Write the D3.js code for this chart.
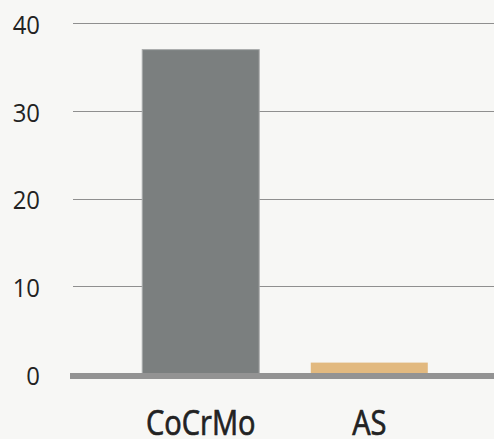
<!DOCTYPE html>
<html><head><meta charset="utf-8">
<script src="https://cdn.jsdelivr.net/npm/d3@7"></script>
<style>
html,body{margin:0;padding:0;background:#f7f7f5;}
svg{display:block;}
</style></head>
<body>
<script>
const categories = ["CoCrMo", "AS"];
const values = [37, 1.3];
const colors = ["#7b7f7f", "#e2b97f"];
const yTicks = [0, 10, 20, 30, 40];

const W = 494, H = 439;
const svg = d3.select("body").append("svg").attr("width", W).attr("height", H);
svg.append("rect").attr("width", W).attr("height", H).attr("fill", "#f7f7f5");

const x = d3.scaleBand().domain(categories).range([70, 500]).paddingInner(0.3).paddingOuter(0.4255);
const y = d3.scaleLinear().domain([0, 40]).range([374, 23.3]);

// gridlines
svg.append("g").selectAll("line").data(yTicks.filter(d => d > 0)).join("line")
  .attr("x1", 73).attr("x2", W)
  .attr("y1", d => Math.round(y(d)) + 0.5).attr("y2", d => Math.round(y(d)) + 0.5)
  .attr("stroke", "#8f8f8f").attr("stroke-width", 1);

// y labels
svg.append("g").selectAll("text").data(yTicks).join("text")
  .attr("transform", d => `translate(40,${y(d)}) scale(0.92,1)`)
  .attr("dy", "0.41em")
  .attr("text-anchor", "end")
  .attr("font-family", "Open Sans")
  .attr("font-size", 26)
  .attr("fill", "#222")
  .text(d => d);

// bars
svg.append("g").selectAll("rect").data(categories).join("rect")
  .attr("x", d => x(d) + 0.5)
  .attr("width", x.bandwidth() - 1)
  .attr("y", (d, i) => y(values[i]))
  .attr("height", (d, i) => y(0) - y(values[i]))
  .attr("fill", (d, i) => colors[i])
  .attr("stroke", (d, i) => i === 0 ? "#a9abab" : "none")
  .attr("stroke-width", 1);

// baseline
svg.append("line").attr("x1", 70).attr("x2", W)
  .attr("y1", y(0) + 2).attr("y2", y(0) + 2)
  .attr("stroke", "#939393").attr("stroke-width", 6);

// x labels
svg.append("g").selectAll("text").data(categories).join("text")
  .attr("transform", d => `translate(${x(d) + x.bandwidth() / 2},434.5) scale(0.83,1)`)
  .attr("text-anchor", "middle")
  .attr("font-family", "Open Sans")
  .attr("font-size", 35)
  .attr("fill", "#222")
  .attr("stroke", "#222")
  .attr("stroke-width", 0.7)
  .text(d => d);
</script>
</body></html>
